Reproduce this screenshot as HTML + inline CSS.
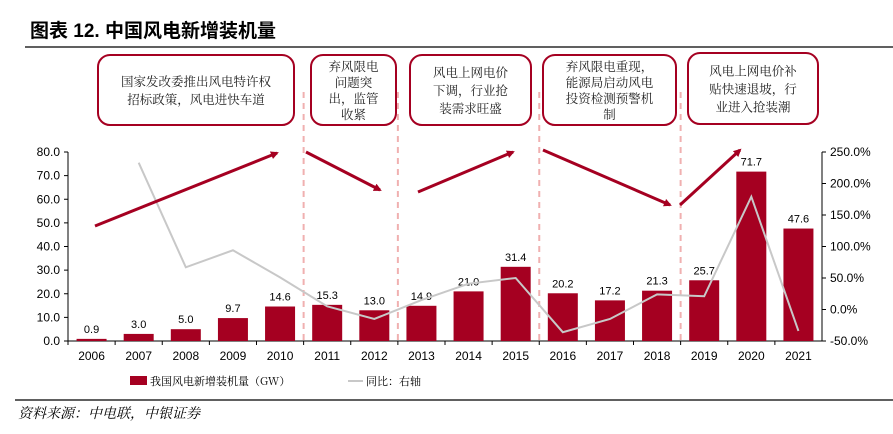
<!DOCTYPE html>
<html><head><meta charset="utf-8"><style>
body{margin:0;background:#fff;}
svg text{font-family:"Liberation Sans","Noto Sans CJK SC",sans-serif;}
.cn{font-family:"Noto Serif CJK SC","Noto Sans CJK SC",serif;}
</style></head><body>
<svg id="c" width="893" height="429">
<text x="30" y="37" font-size="19" font-weight="bold" style="font-family:'Liberation Sans','Noto Sans CJK SC',sans-serif">图表 12. 中国风电新增装机量</text>
<line x1="25" y1="47" x2="893" y2="47" stroke="#000" stroke-width="1.3"/>
<line x1="15" y1="400" x2="893" y2="400" stroke="#000" stroke-width="1.3"/>
<text x="18" y="418" font-size="14" font-style="italic" class="cn">资料来源：中电联，中银证券</text>
<g id="g"></g>
</svg>
<script>
const years=['2006','2007','2008','2009','2010','2011','2012','2013','2014','2015','2016','2017','2018','2019','2020','2021'];
const installs=[0.9,3.0,5.0,9.7,14.6,15.3,13.0,14.9,21.0,31.4,20.2,17.2,21.3,25.7,71.7,47.6];
const growth=[null,233,67,94,51,5,-15,15,41,50,-36,-15,24,21,179,-34];
const leftTicks=[0,10,20,30,40,50,60,70,80];
const rightTicks=[-50,0,50,100,150,200,250];
const NS='http://www.w3.org/2000/svg';
const g=document.getElementById('g');
function mk(t,a,p){const e=document.createElementNS(NS,t);for(const k in a)e.setAttribute(k,a[k]);(p||g).appendChild(e);return e;}
const x0=68,x1=822,yb=341,yt=152;
const step=(x1-x0)/years.length;
const X=i=>x0+step*(i+0.5);
const YL=v=>yb-(v-0)/(80-0)*(yb-yt);
const YR=v=>yb-(v+50)/300*(yb-yt);
let e=mk('line',{x1:x0,y1:yt,x2:x0,y2:yb,stroke:'#000'});

e=mk('line',{x1:x0,y1:yb,x2:x1,y2:yb,stroke:'#000'});

e=mk('line',{x1:x1,y1:yt,x2:x1,y2:yb,stroke:'#000'});

leftTicks.forEach(v=>{mk('line',{x1:x0-4,y1:YL(v),x2:x0,y2:YL(v),stroke:'#000'});
 e=mk('text',{x:x0-8,y:YL(v)+4,'font-size':12,'text-anchor':'end'});e.textContent=v.toFixed(1);
 });
rightTicks.forEach(v=>{mk('line',{x1:x1,y1:YR(v),x2:x1+4,y2:YR(v),stroke:'#000'});
 e=mk('text',{x:x1+8,y:YR(v)+4,'font-size':12});e.textContent=v.toFixed(1)+'%';
 });
years.forEach((y,i)=>{mk('line',{x1:x0+step*i,y1:yb,x2:x0+step*i,y2:yb+4,stroke:'#000'});
 e=mk('text',{x:X(i),y:yb+19,'font-size':12,'text-anchor':'middle'});e.textContent=y;
 });
[5,7,10,13].forEach(p=>{const xx=x0+step*p;
 e=mk('line',{x1:xx,y1:92,x2:xx,y2:yb,stroke:'#f0b0b0','stroke-width':2,'stroke-dasharray':'6,5'});
 });
installs.forEach((v,i)=>{e=mk('rect',{x:X(i)-15,y:YL(v),width:30,height:yb-YL(v),fill:'#a50021'});
 
 e=mk('text',{x:X(i),y:YL(v)-6,'font-size':11,'text-anchor':'middle'});e.textContent=v.toFixed(1);
 });
let d='';growth.forEach((v,i)=>{if(v===null)return;d+=(d?'L':'M')+X(i)+','+YR(v);});
e=mk('path',{d:d,fill:'none',stroke:'#c8c8c8','stroke-width':2});

mk('defs',{}).innerHTML='<marker id="ah" markerWidth="8" markerHeight="8" refX="6" refY="4" orient="auto" markerUnits="userSpaceOnUse"><path d="M0,0L8,4L0,8z" fill="#a50021"/></marker>';
[[95,226,277,153],[306,152,380,190],[418,192,513,152],[543,150,670,205],[680,205,740,150]].forEach(a=>{
 e=mk('line',{x1:a[0],y1:a[1],x2:a[2],y2:a[3],stroke:'#a50021','stroke-width':3,'marker-end':'url(#ah)'});
 });
const boxes=[[98,55,196,70,['国家发改委推出风电特许权','招标政策，风电进快车道'],86],
[311,55,85,70,['弃风限电','问题突','出，监管','收紧'],66],
[410,55,121,70,['风电上网电价','下调，行业抢','装需求旺盛'],78],
[543,55,133,70,['弃风限电重现，','能源局启动风电','投资检测预警机','制'],68],
[688,53,130,71,['风电上网电价补','贴快速退坡，行','业进入抢装潮'],77]];
boxes.forEach(b=>{e=mk('rect',{x:b[0],y:b[1],width:b[2],height:b[3],rx:12,fill:'#fff',stroke:'#a50021','stroke-width':2});
 
 const lh=b[4].length>3?16:18;const sy=b[1]+b[3]/2-(b[4].length-1)*lh/2+5;
 b[4].forEach((t,k)=>{e=mk('text',{x:b[0]+b[2]/2,y:sy+k*lh,'font-size':12.5,'text-anchor':'middle','class':'cn',fill:'#222'});e.textContent=t;
 });});
e=mk('rect',{x:130,y:376,width:17,height:9,fill:'#a50021'});
e=mk('text',{x:150,y:385,'font-size':11,'class':'cn'});e.textContent='我国风电新增装机量（GW）';
e=mk('line',{x1:348,y1:381,x2:363,y2:381,stroke:'#c8c8c8','stroke-width':2});
e=mk('text',{x:366,y:385,'font-size':11,'class':'cn'});e.textContent='同比：右轴';
</script>
</body></html>
